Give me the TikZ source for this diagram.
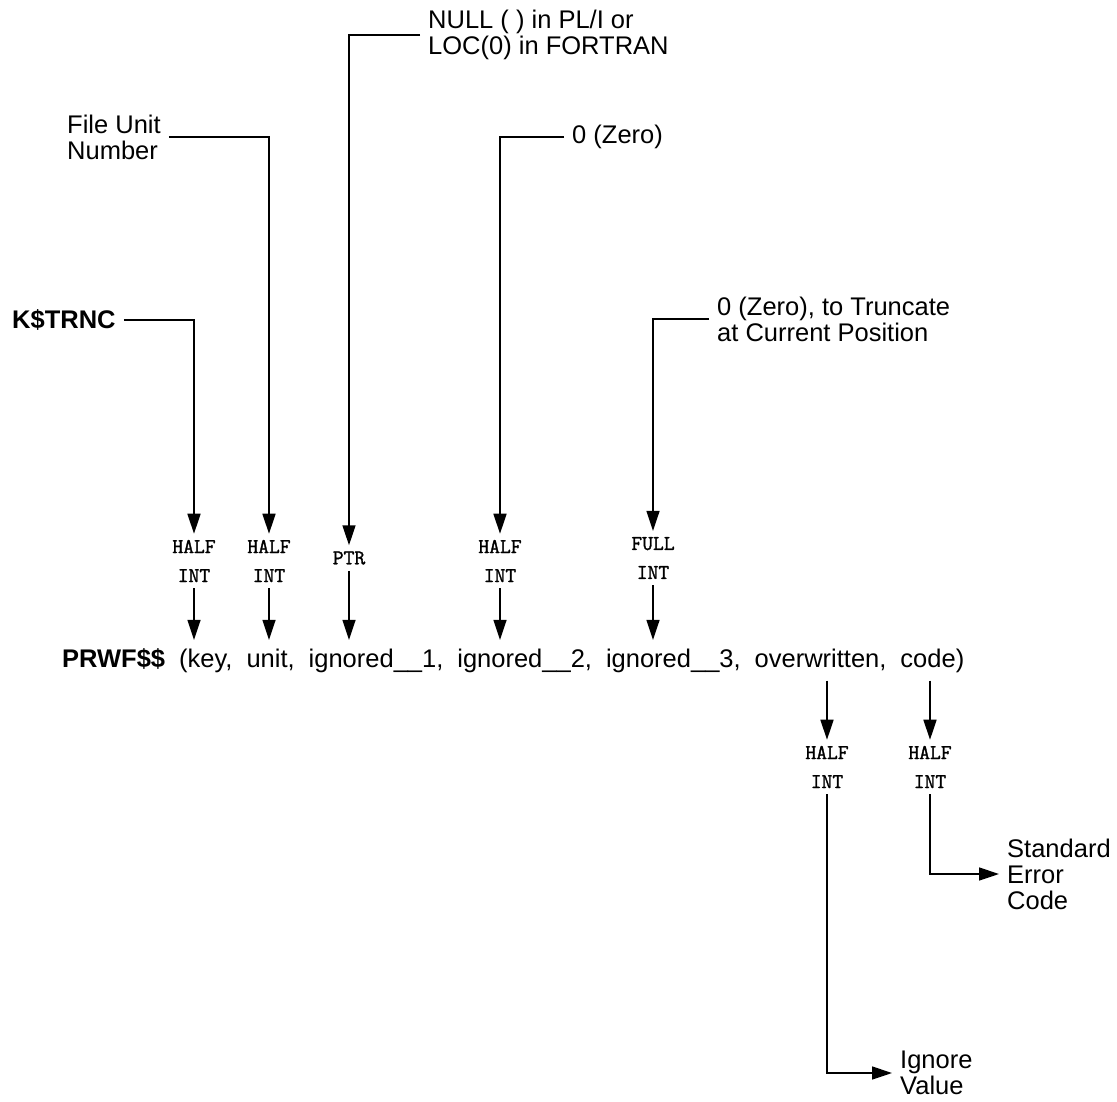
\documentclass[tikz,border=0pt]{standalone}
\usepackage{fontspec}
\setmainfont{Liberation Sans}
\newfontfamily\typefont[FakeBold=1.5]{Latin Modern Mono}
\usepackage{tikz}
\usetikzlibrary{positioning,arrows.meta}
\tikzset{
  note/.style={font=\fontsize{25.5}{26}\selectfont,align=left,inner sep=8pt},
  dtype/.style={font=\typefont\fontsize{21}{29}\selectfont,align=center,inner sep=6pt},
  feed/.style={-{Triangle[length=20pt,width=13pt]},line width=1.5pt},
}

\begin{document}
\begin{tikzpicture}[x=1pt,y=-1pt]
  \useasboundingbox (0,0) rectangle (1117,1101);
  \node[note,anchor=base west] (call) at (54,667) {\spaceskip=14pt\relax\textbf{PRWF\$\$} (key, unit, ignored\_\_1, ignored\_\_2, ignored\_\_3, overwritten, code)};
  \node[dtype] (tkey) at (194,561) {HALF\\INT};
  \node[dtype] (tunit) at (269,561) {HALF\\INT};
  \node[dtype] (tig1) at (349,558) {PTR};
  \node[dtype] (tig2) at (500,561) {HALF\\INT};
  \node[dtype] (tig3) at (653,558) {FULL\\INT};
  \node[dtype] (tover) at (827,767) {HALF\\INT};
  \node[dtype] (tcode) at (930,767) {HALF\\INT};
  \node[note,anchor=west,font=\bfseries\fontsize{25.5}{26}\selectfont] (ktrnc) at (4,320) {K\$TRNC};
  \node[note,anchor=west] (unitno) at (59,137) {File Unit\\Number};
  \node[note,anchor=west] (nullp) at (420,35) {NULL ( ) in PL/I or\\LOC(0) in FORTRAN};
  \node[note,anchor=west] (zero) at (564,137) {0 (Zero)};
  \node[note,anchor=west] (trunc) at (709,319) {0 (Zero), to Truncate\\at Current Position};
  \node[note,anchor=west] (stderr) at (999,874) {Standard\\Error\\Code};
  \node[note,anchor=west] (ignval) at (892,1073) {Ignore\\Value};
  \draw[feed] (ktrnc.east) -| (tkey.north);
  \draw[feed] (unitno.east) -| (tunit.north);
  \draw[feed] (nullp.west) -| (tig1.north);
  \draw[feed] (zero.west) -| (tig2.north);
  \draw[feed] (trunc.west) -| (tig3.north);
  \foreach \t in {tkey,tunit,tig1,tig2,tig3}
    \draw[feed] (\t.south) -- (\t.south |- call.north);
  \foreach \t in {tover,tcode}
    \draw[feed] (call.south -| \t.north) -- (\t.north);
  \draw[feed] (tcode.south) |- (stderr.west);
  \draw[feed] (tover.south) |- (ignval.west);
\end{tikzpicture}
\end{document}
